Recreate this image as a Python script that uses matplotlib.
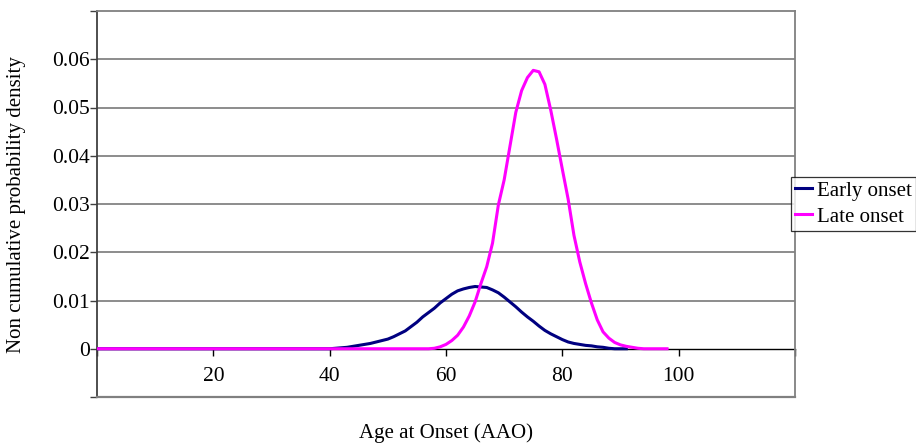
import matplotlib
matplotlib.use("Agg")
import matplotlib.pyplot as plt

plt.rcParams['font.family'] = ['Liberation Serif', 'DejaVu Serif']

# ---- data ----
early_age = [0, 40, 41, 42, 43, 44, 45, 46, 47, 48, 49, 50, 51, 52, 53, 54, 55, 56, 57, 58, 59,
             60, 61, 62, 63, 64, 65, 66, 67, 68, 69, 70, 71, 72, 73, 74, 75, 76, 77, 78, 79,
             80, 81, 82, 83, 84, 85, 86, 87, 88, 89, 90, 91]
early_val = [0, 0, 0.0001, 0.0002, 0.0003, 0.0005, 0.0007, 0.0009, 0.0011, 0.0014, 0.0017,
             0.0020, 0.0025, 0.0031, 0.0037, 0.0046, 0.0055, 0.0066, 0.0075, 0.0084, 0.0095,
             0.0104, 0.0113, 0.0120, 0.0124, 0.0127, 0.0129, 0.0128, 0.0127, 0.0122, 0.0116,
             0.0107, 0.0097, 0.0087, 0.0076, 0.0066, 0.0057, 0.0047, 0.0038, 0.0031, 0.0025,
             0.0019, 0.0014, 0.0011, 0.0009, 0.0007, 0.0006, 0.0004, 0.0003, 0.0001, 0, 0, 0]

late_age = [0, 57, 58, 59, 60, 61, 62, 63, 64, 65, 66, 67, 68, 69, 70, 71, 72, 73, 74, 75,
            76, 77, 78, 79, 80, 81, 82, 83, 84, 85, 86, 87, 88, 89, 90, 91, 92, 93, 94, 98]
late_val = [0, 0, 0.0001, 0.0004, 0.0009, 0.0017, 0.0028, 0.0045, 0.0068, 0.0097, 0.0135,
            0.0170, 0.0219, 0.0298, 0.0350, 0.0420, 0.0490, 0.0535, 0.0562, 0.0577,
            0.0574, 0.0548, 0.0495, 0.0435, 0.0372, 0.0310, 0.0235, 0.0180, 0.0135, 0.0095,
            0.0060, 0.0035, 0.0022, 0.0013, 0.0008, 0.0005, 0.0003, 0.0001, 0, 0]

series_names = ["Early onset", "Late onset"]
series_colors = ["#000080", "#FF00FF"]
x_ticks = [0, 20, 40, 60, 80, 100, 120]
x_ticklabels = ["", "20", "40", "60", "80", "100", ""]
y_ticks = [-0.01, 0, 0.01, 0.02, 0.03, 0.04, 0.05, 0.06, 0.07]
y_ticklabels = ["", "0", "0.01", "0.02", "0.03", "0.04", "0.05", "0.06", ""]
x_label = "Age at Onset (AAO)"
y_label = "Non cumulative probability density"

# ---- figure ----
W, H = 916, 445
fig = plt.figure(figsize=(W / 100, H / 100), dpi=100)
ax = fig.add_axes([97 / W, 1 - 397 / H, (795 - 97) / W, (397 - 11) / H])

ax.set_xlim(0, 120)
ax.set_ylim(-0.01, 0.07)

# gridlines
for yv in y_ticks[2:-1]:
    ax.axhline(yv, color="#6e6e6e", lw=1.1, zorder=1)

l1, = ax.plot(early_age, early_val, color=series_colors[0], lw=2.2, zorder=3,
              solid_joinstyle='round')
l2, = ax.plot(late_age, late_val, color=series_colors[1], lw=2.2, zorder=4,
              solid_joinstyle='round')

# spines
for s in ["top", "right"]:
    ax.spines[s].set_color("#808080")
    ax.spines[s].set_linewidth(1.3)
ax.spines["left"].set_color("#404040")
ax.spines["left"].set_linewidth(1.3)
ax.spines["bottom"].set_position(("data", 0))
ax.spines["bottom"].set_color("black")
ax.spines["bottom"].set_linewidth(1.0)
ax.spines["bottom"].set_zorder(2)
# bottom frame of plot area
ax.plot([0, 1], [0, 0], transform=ax.transAxes, color="#808080", lw=1.6,
        clip_on=False, zorder=5)

ax.set_yticks(y_ticks)
ax.set_yticklabels(y_ticklabels, fontsize=15.5)
ax.tick_params(axis="y", direction="out", length=5, width=1, color="#404040", pad=0)

ax.set_xticks(x_ticks)
ax.set_xticklabels(x_ticklabels, fontsize=15.5)
ax.tick_params(axis="x", direction="out", length=5, width=1, color="black", pad=8)

fig.text(446 / W, 1 - 433 / H, x_label, ha="center", va="center", fontsize=15)
fig.text(17 / W, 1 - 205 / H, y_label, ha="center", va="center", rotation=90, fontsize=15)

leg = fig.legend([l1, l2], series_names, loc="upper left",
                 bbox_to_anchor=(791 / W, 1 - 177 / H), fontsize=15,
                 frameon=True, fancybox=False, borderpad=0.2, handlelength=0.8,
                 handletextpad=0.25, labelspacing=0.3, borderaxespad=0,
                 handleheight=0.7)
leg.get_frame().set_edgecolor("black")
leg.get_frame().set_linewidth(0.9)

fig.savefig("out.png", dpi=100, facecolor="white")
